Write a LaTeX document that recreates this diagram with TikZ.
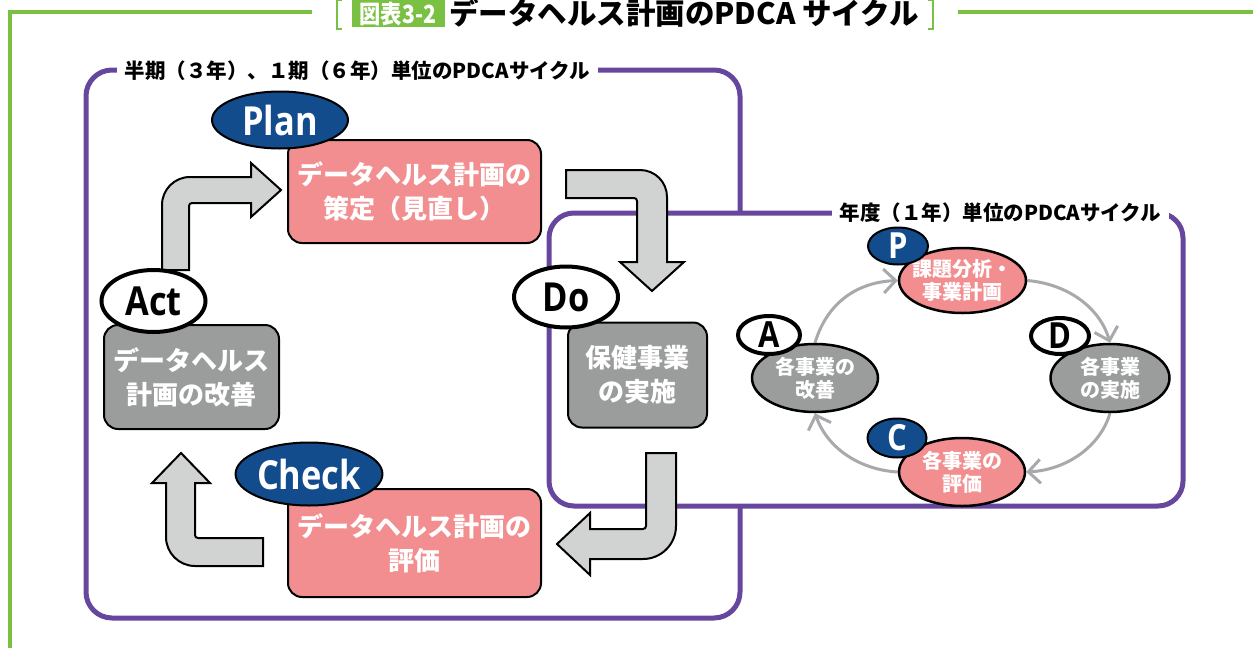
\documentclass[tikz,border=0pt]{standalone}
\usepackage{fontspec}
\setmainfont{Noto Sans CJK JP}
\newfontfamily\jpf{Noto Sans CJK JP}
\newfontfamily\latf[FakeStretch=0.86]{Open Sans}
\newfontfamily\jpcond[FakeStretch=0.85]{Noto Sans CJK JP}
\usetikzlibrary{arrows.meta,shapes.geometric}
\definecolor{frgreen}{RGB}{122,193,67}
\definecolor{frpurple}{RGB}{103,71,157}
\definecolor{boxpink}{RGB}{242,142,143}
\definecolor{navy}{RGB}{18,76,140}
\definecolor{boxgray}{RGB}{155,157,157}
\definecolor{arrgray}{RGB}{209,211,210}
\definecolor{cycgray}{RGB}{167,169,172}
\pgfdeclarelayer{bglayer}
\pgfdeclarelayer{midlayer}
\pgfsetlayers{bglayer,midlayer,main}
\tikzset{
  purpleline/.style={draw=frpurple, line width=5pt},
  frametitle/.style={fill=white, inner xsep=8pt, inner ysep=2pt, text=black, font=\jpf\bfseries\fontsize{20.5}{24}\selectfont},
  mainbox/.style={draw=black, line width=2pt, rounded corners=14pt, text=white, align=center, inner sep=0pt, font=\jpf\bfseries\fontsize{26}{34}\selectfont},
  pinkbox/.style={mainbox, fill=boxpink},
  graybox/.style={mainbox, fill=boxgray},
  navyoval/.style={ellipse, draw=black, line width=2pt, fill=navy, text=white, inner sep=0pt, font=\latf\bfseries\fontsize{40}{40}\selectfont},
  whiteoval/.style={ellipse, draw=black, line width=4pt, fill=white, text=black, inner sep=0pt, font=\latf\bfseries\fontsize{40}{40}\selectfont},
  bigarrow/.style={draw=black, line width=2pt, fill=arrgray},
  cycnode/.style={ellipse, draw=black, line width=2.5pt, text=white, align=center, inner xsep=-8pt, inner ysep=0pt, font=\jpf\bfseries\fontsize{20}{23}\selectfont},
  cycarrow/.style={draw=cycgray, line width=3pt, -{Straight Barb[length=12pt,width=24pt]}},
  badgenavy/.style={ellipse, draw=black, line width=2pt, fill=navy, text=white, inner sep=-4pt, font=\latf\bfseries\fontsize{36}{36}\selectfont},
  badgewhite/.style={ellipse, draw=black, line width=4pt, fill=white, text=black, inner sep=-4pt, font=\latf\bfseries\fontsize{36}{36}\selectfont},
  greenline/.style={draw=frgreen, line width=4pt},
  bracketline/.style={draw=frgreen, line width=2pt}
}
\begin{document}
\begin{tikzpicture}[x=1pt,y=-1pt]
\useasboundingbox (0,0) rectangle (1253,648);
% ---------- frames ----------
\begin{pgfonlayer}{bglayer}
\draw[greenline] (10,648) -- (10,12) -- (312,12);
\draw[greenline] (958,12) -- (1253,12);
\draw[bracketline] (342,0) -- (337,0) -- (337,29) -- (342,29);
\draw[bracketline] (928,0) -- (933,0) -- (933,29) -- (928,29);
\draw[purpleline, rounded corners=26pt] (86,70) rectangle (740,618);
\draw[purpleline, fill=white, rounded corners=25pt] (549,213) rectangle (1183,506);
\end{pgfonlayer}
% ---------- title ----------
\node[fill=frgreen, text=white, minimum width=93pt, minimum height=27pt, inner sep=0pt,
      font=\jpcond\bfseries\fontsize{25}{25}\selectfont] (figno) at (398,13.5) {図表3-2};
\node[text=black, inner sep=0pt, font=\jpf\bfseries\fontsize{29.5}{29.5}\selectfont] (maintitle) at (684,13) {データヘルス計画のPDCA サイクル};
\node[frametitle] (bigtitle) at (357.5,71) {半期（３年）、１期（６年）単位のPDCAサイクル};
\node[frametitle] (innertitle) at (1000.5,213) {年度（１年）単位のPDCAサイクル};
% ---------- left cycle ----------
\node[pinkbox, minimum width=253pt, minimum height=103pt] (planbox) at (414.5,191.5) {データヘルス計画の\\策定（見直し）};
\node[navyoval, minimum width=136pt, minimum height=57pt] (planlab) at (280,120) {Plan};
\node[graybox, minimum width=175pt, minimum height=104pt] (actbox) at (191.5,377) {データヘルス\\計画の改善};
\node[whiteoval, minimum width=104pt, minimum height=62pt] (actlab) at (153.5,301) {Act};
\node[graybox, minimum width=139pt, minimum height=105pt] (dobox) at (637.5,375) {保健事業\\の実施};
\node[whiteoval, minimum width=104pt, minimum height=61pt] (dolab) at (566,297) {Do};
\node[pinkbox, minimum width=253pt, minimum height=108pt] (checkbox) at (414.5,543) {データヘルス計画の\\評価};
\node[navyoval, minimum width=144pt, minimum height=63pt] (checklab) at (309,474) {Check};
% ---------- big arrows ----------
\begin{pgfonlayer}{midlayer}
\draw[bigarrow] (162,270) -- (162,205) .. controls (162,189.5) and (174.5,177) .. (190,177) -- (251,177) -- (251,163) -- (281,190) -- (251,217) -- (251,203) -- (192,203) .. controls (190.3,203) and (189,204.3) .. (189,206) -- (189,270) -- cycle;
\draw[bigarrow] (566,170) -- (640,170) .. controls (655,170) and (667,182) .. (667,197) -- (667,262) -- (684,262) -- (652,291) -- (620,262) -- (637,262) -- (637,201) .. controls (637,199.3) and (635.7,198) .. (634,198) -- (566,198) -- cycle;
\draw[bigarrow] (646,453) -- (676,453) -- (676,526) .. controls (676,544.2) and (661.2,559) .. (643,559) -- (590,559) -- (590,575) -- (557,544) -- (590,513) -- (590,529) -- (643,529) .. controls (644.7,529) and (646,527.7) .. (646,526) -- cycle;
\draw[bigarrow] (181,453) -- (210,483) -- (195,483) -- (195,535) .. controls (195,536.7) and (196.3,538) .. (198,538) -- (263,538) -- (263,566) -- (195,566) .. controls (179,566) and (166,553) .. (166,537) -- (166,483) -- (152,483) -- cycle;
\end{pgfonlayer}
% ---------- right cycle ----------
\node[cycnode, fill=boxpink, minimum width=127pt, minimum height=65pt] (pnode) at (962.5,280.5) {課題分析・\\事業計画};
\node[cycnode, fill=boxgray, minimum width=119pt, minimum height=68pt] (dnode) at (1110,378) {各事業\\の実施};
\node[cycnode, fill=boxpink, minimum width=126pt, minimum height=68pt] (cnode) at (962,472) {各事業の\\評価};
\node[cycnode, fill=boxgray, minimum width=126pt, minimum height=68pt] (anode) at (815,378) {各事業の\\改善};
\node[badgenavy, minimum width=60pt, minimum height=37pt] (pbadge) at (898,246) {P};
\node[badgewhite, minimum width=58pt, minimum height=36pt] (dbadge) at (1060,336) {D};
\node[badgenavy, minimum width=59pt, minimum height=39pt] (cbadge) at (897,438) {C};
\node[badgewhite, minimum width=62pt, minimum height=38pt] (abadge) at (769,335) {A};
\begin{pgfonlayer}{midlayer}
\draw[cycarrow] (anode.north) .. controls (828,300) and (860,282) .. (pnode.west);
\draw[cycarrow] (pnode.east) .. controls (1068,284) and (1100,308) .. (dnode.north);
\draw[cycarrow] (dnode.south) .. controls (1100,447) and (1066,470) .. (cnode.east);
\draw[cycarrow] (cnode.west) .. controls (862,470) and (828,450) .. (anode.south);
\end{pgfonlayer}
\end{tikzpicture}
\end{document}
